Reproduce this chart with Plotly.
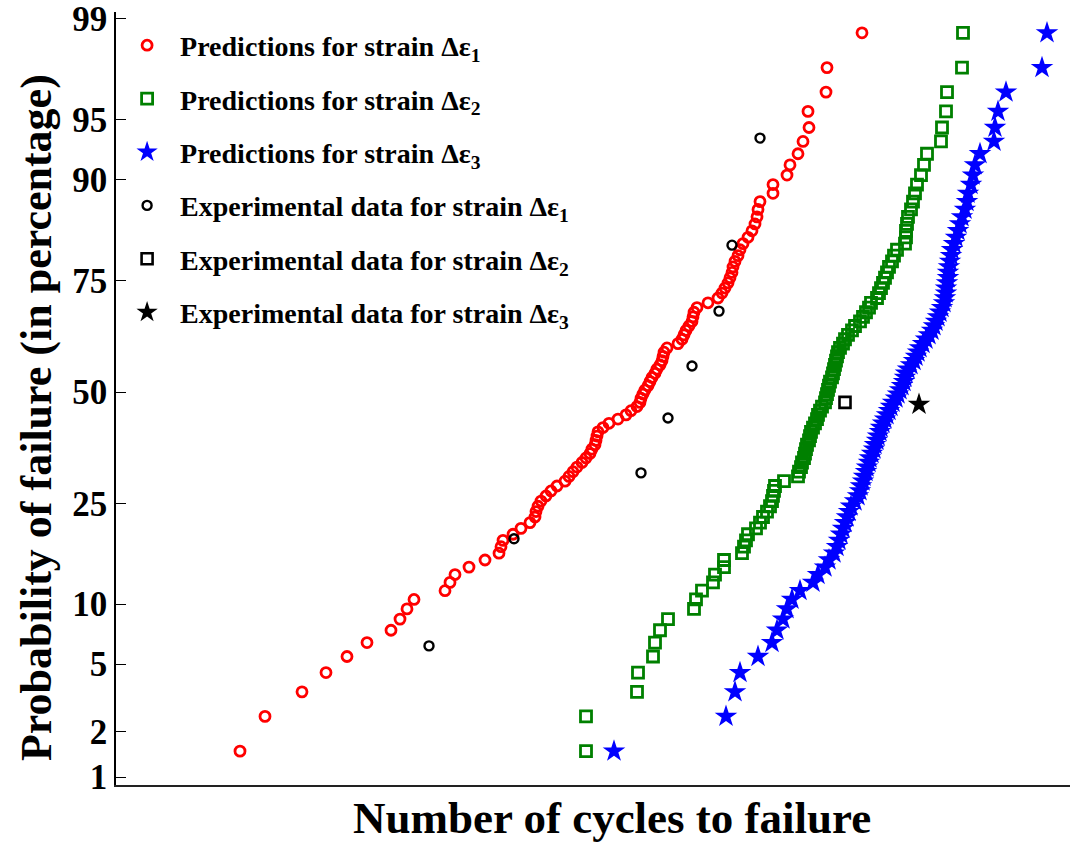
from statistics import NormalDist
import plotly.graph_objects as go

# Failure probability (percent) assigned to each ranked simulated life
pred_prob = [1.5, 2.5, 3.5, 4.5, 5.5, 6.5, 7.5, 8.5, 9.5, 10.5,
             11.5, 12.5, 13.5, 14.5, 15.5, 16.5, 17.5, 18.5, 19.5, 20.5,
             21.5, 22.5, 23.5, 24.5, 25.5, 26.5, 27.5, 28.5, 29.5, 30.5,
             31.5, 32.5, 33.5, 34.5, 35.5, 36.5, 37.5, 38.5, 39.5, 40.5,
             41.5, 42.5, 43.5, 44.5, 45.5, 46.5, 47.5, 48.5, 49.5, 50.5,
             51.5, 52.5, 53.5, 54.5, 55.5, 56.5, 57.5, 58.5, 59.5, 60.5,
             61.5, 62.5, 63.5, 64.5, 65.5, 66.5, 67.5, 68.5, 69.5, 70.5,
             71.5, 72.5, 73.5, 74.5, 75.5, 76.5, 77.5, 78.5, 79.5, 80.5,
             81.5, 82.5, 83.5, 84.5, 85.5, 86.5, 87.5, 88.5, 89.5, 90.5,
             91.5, 92.5, 93.5, 94.5, 95.5, 96.5, 97.5, 98.5]

# Predicted lives (cycles), sorted, one per probability level
pred1_cycles = [1240, 1490, 1860, 2100, 2310, 2510, 2750, 2840, 2910, 2980,
                3290, 3340, 3390, 3530, 3690, 3830, 3850, 3870, 3970, 4050,
                4140, 4190, 4200, 4220, 4250, 4300, 4350, 4410, 4490, 4530,
                4570, 4610, 4660, 4700, 4740, 4760, 4790, 4800, 4810, 4820,
                4870, 4930, 5020, 5100, 5150, 5210, 5240, 5250, 5270, 5290,
                5320, 5340, 5360, 5390, 5410, 5440, 5460, 5470, 5480, 5510,
                5620, 5660, 5680, 5700, 5730, 5760, 5770, 5780, 5810, 5920,
                6020, 6060, 6090, 6120, 6140, 6160, 6170, 6190, 6220, 6240,
                6270, 6320, 6360, 6390, 6410, 6420, 6440, 6570, 6570, 6710,
                6740, 6820, 6870, 6930, 6920, 7100, 7110, 7460]

pred2_cycles = [4700, 4700, 5210, 5220, 5370, 5390, 5440, 5520, 5780, 5800,
                5860, 5970, 5990, 6080, 6080, 6260, 6280, 6300, 6320, 6400,
                6440, 6470, 6510, 6540, 6560, 6570, 6580, 6590, 6680, 6820,
                6830, 6850, 6860, 6880, 6890, 6900, 6910, 6930, 6940, 6950,
                6970, 6990, 7010, 7020, 7040, 7060, 7090, 7100, 7110, 7120,
                7130, 7140, 7160, 7170, 7180, 7190, 7200, 7210, 7220, 7240,
                7270, 7290, 7320, 7360, 7390, 7440, 7470, 7500, 7530, 7550,
                7610, 7630, 7650, 7670, 7690, 7710, 7730, 7760, 7780, 7810,
                7890, 7900, 7900, 7910, 7920, 7950, 7970, 7990, 8010, 8050,
                8080, 8110, 8250, 8260, 8300, 8310, 8460, 8470]

pred3_cycles = [4980, 6100, 6190, 6240, 6420, 6560, 6610, 6670, 6710, 6760,
                6840, 6970, 7020, 7090, 7130, 7180, 7210, 7230, 7250, 7270,
                7290, 7310, 7330, 7350, 7390, 7420, 7440, 7450, 7470, 7480,
                7500, 7510, 7530, 7540, 7560, 7580, 7590, 7610, 7620, 7640,
                7650, 7670, 7690, 7710, 7730, 7750, 7770, 7800, 7820, 7840,
                7860, 7880, 7890, 7900, 7920, 7950, 7980, 8000, 8020, 8040,
                8070, 8100, 8130, 8160, 8180, 8200, 8220, 8240, 8260, 8280,
                8290, 8300, 8300, 8310, 8320, 8320, 8330, 8340, 8350, 8360,
                8380, 8400, 8420, 8440, 8460, 8490, 8510, 8520, 8550, 8570,
                8590, 8640, 8780, 8790, 8820, 8900, 9260, 9310]

# Experimental fatigue lives
exp1_prob = [6.25, 18.75, 31.25, 43.75, 56.25, 68.75, 81.25, 93.75]
exp1_cycles = [3130, 3980, 5250, 5520, 5760, 6030, 6160, 6440]
exp2_prob = [47.5]
exp2_cycles = [7290]
exp3_prob = [47.0]
exp3_cycles = [8030]

# Probability-scale ticks
tick_prob = [1, 2, 5, 10, 25, 50, 75, 90, 95, 98.8]
tick_text = ["1", "2", "5", "10", "25", "50", "75", "90", "95", "99"]

norm = NormalDist()


def q(percents):
    return [norm.inv_cdf(p / 100.0) for p in percents]


SERIF = "Liberation Serif"

fig = go.Figure()

fig.add_trace(go.Scatter(
    x=pred1_cycles, y=q(pred_prob), mode="markers",
    name="Predictions for strain Δε<sub>1</sub>",
    marker=dict(symbol="circle-open", size=10, color="#ff0000",
                line=dict(width=2.8, color="#ff0000")),
))
fig.add_trace(go.Scatter(
    x=pred2_cycles, y=q(pred_prob), mode="markers",
    name="Predictions for strain Δε<sub>2</sub>",
    marker=dict(symbol="square-open", size=11, color="#008000",
                line=dict(width=2.8, color="#008000")),
))
fig.add_trace(go.Scatter(
    x=pred3_cycles, y=q(pred_prob), mode="markers",
    name="Predictions for strain Δε<sub>3</sub>",
    marker=dict(symbol="star", size=17, color="#0000ff",
                line=dict(width=0)),
))
fig.add_trace(go.Scatter(
    x=exp1_cycles, y=q(exp1_prob), mode="markers",
    name="Experimental data for strain Δε<sub>1</sub>",
    marker=dict(symbol="circle-open", size=9, color="#000000",
                line=dict(width=2.4, color="#000000")),
))
fig.add_trace(go.Scatter(
    x=exp2_cycles, y=q(exp2_prob), mode="markers",
    name="Experimental data for strain Δε<sub>2</sub>",
    marker=dict(symbol="square-open", size=11, color="#000000",
                line=dict(width=2.6, color="#000000")),
))
fig.add_trace(go.Scatter(
    x=exp3_cycles, y=q(exp3_prob), mode="markers",
    name="Experimental data for strain Δε<sub>3</sub>",
    marker=dict(symbol="star", size=17, color="#000000",
                line=dict(width=0)),
))

for i, tr in enumerate(fig.data):
    tr.legendgroup = f"g{i}"

fig.update_layout(
    width=1070, height=842,
    margin=dict(l=116, r=0, t=12, b=57),
    paper_bgcolor="white", plot_bgcolor="white",
    font=dict(family=SERIF, color="black"),
    showlegend=True,
    legend=dict(
        x=-0.002, y=0.989, xanchor="left", yanchor="top",
        bgcolor="rgba(0,0,0,0)",
        font=dict(family=SERIF, size=28, color="black", weight="bold"),
        tracegroupgap=14, itemsizing="trace", itemwidth=56,
    ),
    xaxis=dict(
        range=[0, 9540], showgrid=False, zeroline=False,
        showline=True, linecolor="#222222", linewidth=1.6,
        showticklabels=False, ticks="",
    ),
    yaxis=dict(
        range=[-2.3746, 2.296], showgrid=False, zeroline=False,
        showline=True, linecolor="black", linewidth=1.6,
        tickmode="array", tickvals=q(tick_prob), ticktext=tick_text,
        ticks="inside", ticklen=10, tickwidth=1.4, tickcolor="black",
        ticklabeloverflow="allow",
        tickfont=dict(family=SERIF, size=35, color="black", weight="bold"),
    ),
    annotations=[
        dict(text="Probability of failure (in percentage)",
             xref="paper", yref="paper", x=-0.0839, y=0.476,
             xanchor="center", yanchor="middle", textangle=-90,
             showarrow=False,
             font=dict(family=SERIF, size=44, color="black", weight="bold")),
        dict(text="Number of cycles to failure",
             xref="paper", yref="paper", x=0.5204, y=-0.0427,
             xanchor="center", yanchor="middle", showarrow=False,
             font=dict(family=SERIF, size=45, color="black", weight="bold")),
    ],
)

fig.write_html("out.html")
